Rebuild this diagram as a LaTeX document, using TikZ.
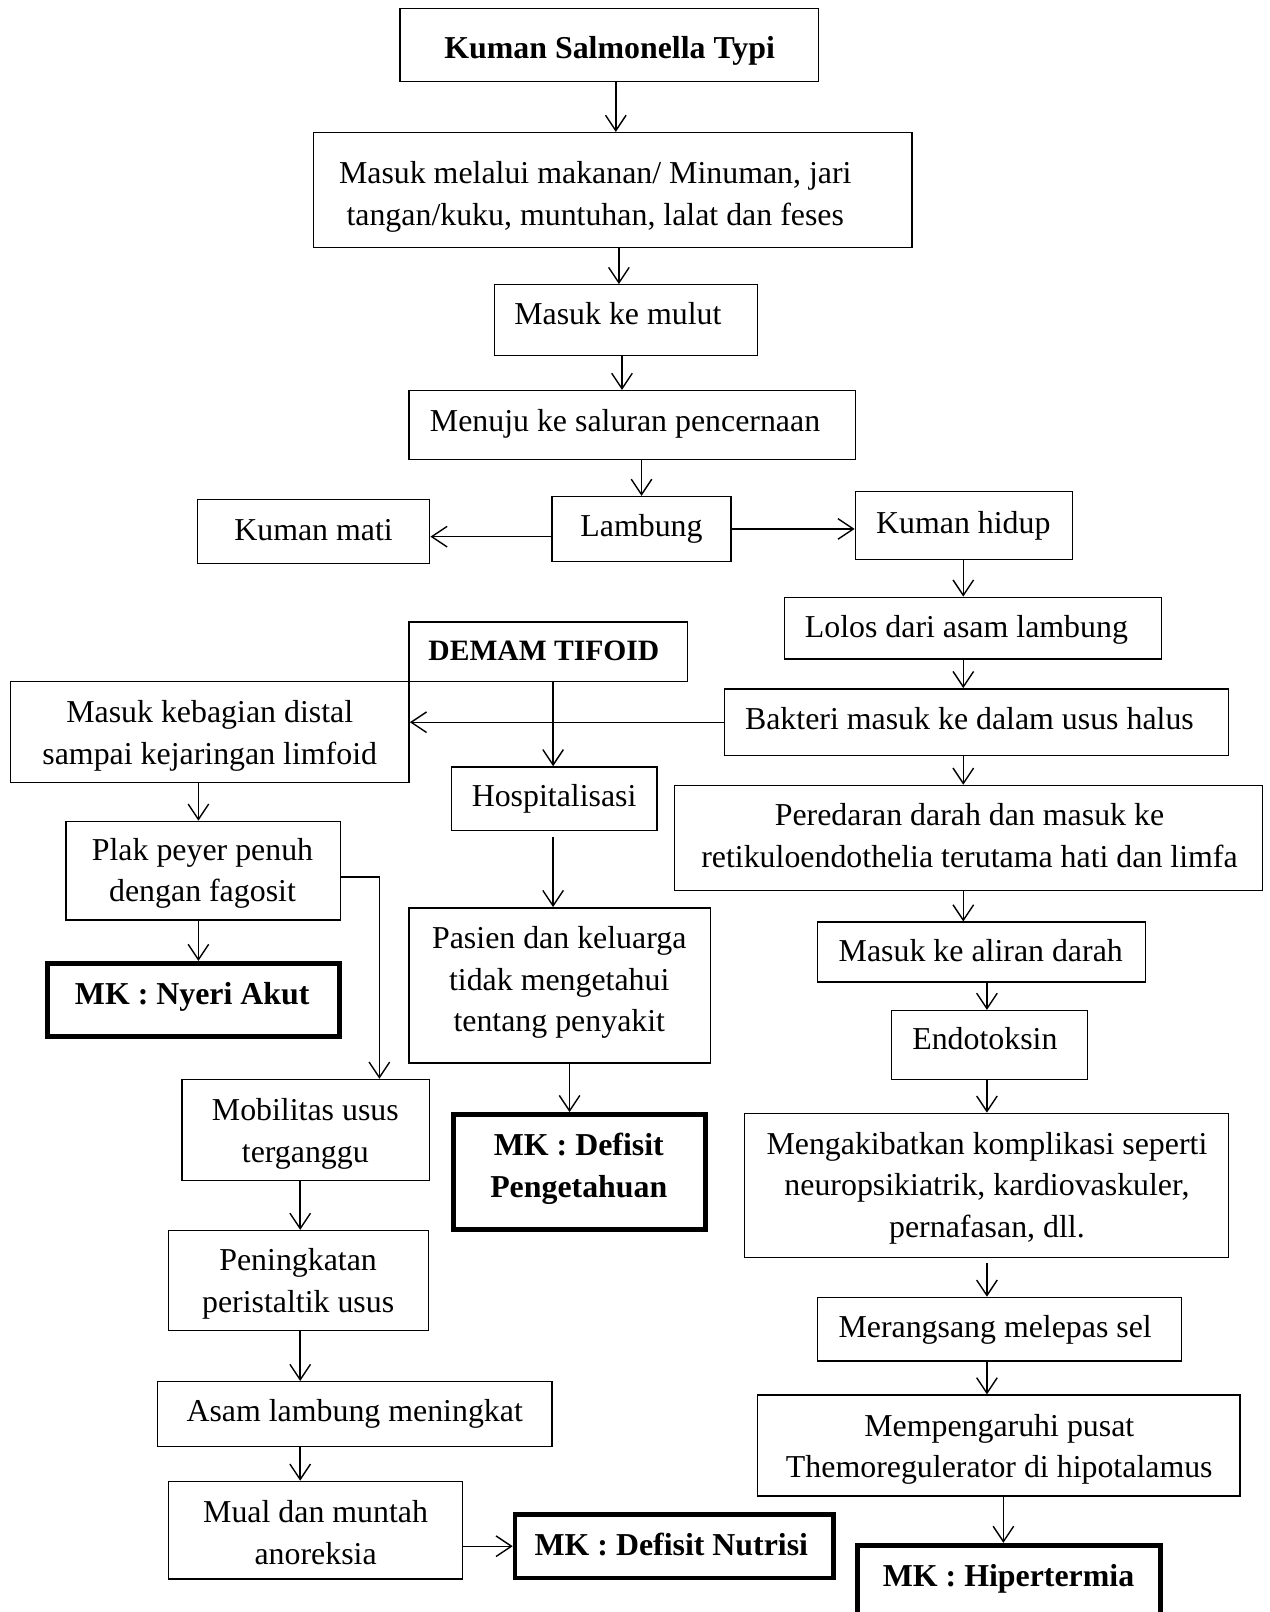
\documentclass[tikz,border=0pt]{standalone}
\usepackage{fontspec}
\setmainfont{Liberation Serif}
\usetikzlibrary{arrows.meta,fit}
\newcommand\bx[9]{\node[#2, fit={(#3,#4)(#5,#6)}] (#1) {};
  \node[txt] (#1-t) at (#7,#8) {#9};}
\newcommand\down[4][]{\coordinate (cx) at (#4,0);
  \draw[arr,#1] (#2.south -| cx) -- (#3.north -| cx);}
\begin{document}
\begin{tikzpicture}[x=0.4pt,y=-0.4pt,
  plainbox/.style={draw, line width=0.55pt, inner sep=0pt, rectangle},
  mkbox/.style={draw, line width=1.8pt, inner sep=0pt, rectangle},
  txt/.style={align=center, inner sep=0pt, yshift=-0.8pt, font=\fontsize{12.4pt}{16.2pt}\selectfont},
  arr/.style={line width=0.55pt, -{Straight Barb[length=6pt,width=8pt]}}]
\useasboundingbox (0,0) rectangle (1235,1568);
\fill[white] (0,0) rectangle (1235,1568);
\clip (0,0) rectangle (1235,1568);

% top chain
\bx{k1}{plainbox}{389}{8}{796}{79}{593}{47}{\strut\textbf{Kuman Salmonella Typi}}
\bx{k2}{plainbox}{305}{129}{887}{241}{579}{189}{\strut Masuk melalui makanan/ Minuman, jari\\\strut tangan/kuku, muntuhan, lalat dan feses}
\bx{k3}{plainbox}{481}{277}{737}{346}{601}{306}{\strut Masuk ke mulut}
\bx{k4}{plainbox}{398}{380}{832}{447}{608}{410}{\strut Menuju ke saluran pencernaan}
\bx{lamb}{plainbox}{537}{483}{711}{546}{624}{512}{\strut Lambung}
\bx{mati}{plainbox}{192}{486}{418}{548}{305}{516}{\strut Kuman mati}
\bx{hidup}{plainbox}{832}{478}{1043}{544}{937}{509}{\strut Kuman hidup}

% right column
\bx{lolos}{plainbox}{763}{581}{1130}{641}{940}{610}{\strut Lolos dari asam lambung}
\bx{bakteri}{plainbox}{705}{670}{1195}{735}{943}{699}{\strut Bakteri masuk ke dalam usus halus}
\bx{pered}{plainbox}{656}{764}{1228}{866}{943}{813}{\strut Peredaran darah dan masuk ke\\\strut retikuloendothelia terutama hati dan limfa}
\bx{aliran}{plainbox}{795}{897}{1114}{955}{954}{925}{\strut Masuk ke aliran darah}
\bx{endo}{plainbox}{867}{983}{1058}{1050}{958}{1011}{\strut Endotoksin}
\bx{komp}{plainbox}{724}{1083}{1195}{1223}{960}{1153}{\strut Mengakibatkan komplikasi seperti\\\strut neuropsikiatrik, kardiovaskuler,\\\strut pernafasan, dll.}
\bx{meran}{plainbox}{795}{1262}{1149}{1324}{968}{1291}{\strut Merangsang melepas sel}
\bx{mempe}{plainbox}{737}{1357}{1206}{1455}{972}{1407}{\strut Mempengaruhi pusat\\\strut Themoregulerator di hipotalamus}
\bx{hiper}{mkbox}{834}{1503}{1129}{1600}{981}{1533}{\strut\textbf{MK : Hipertermia}}

% middle column
\bx{demam}{plainbox}{398}{605}{669}{663}{529}{632}{\strut\fontsize{11.5pt}{16.2pt}\selectfont\textbf{DEMAM TIFOID}}
\bx{hosp}{plainbox}{439}{746}{639}{808}{539}{774}{\strut Hospitalisasi}
\bx{pasien}{plainbox}{398}{883}{691}{1034}{544}{953}{\strut Pasien dan keluarga\\\strut tidak mengetahui\\\strut tentang penyakit}
\bx{defp}{mkbox}{441}{1084}{686}{1196}{563}{1134}{\strut\textbf{MK : Defisit}\\\strut\textbf{Pengetahuan}}

% left column
\bx{distal}{plainbox}{10}{663}{398}{761}{204}{713}{\strut Masuk kebagian distal\\\strut sampai kejaringan limfoid}
\bx{plak}{plainbox}{64}{799}{331}{895}{197}{847}{\strut Plak peyer penuh\\\strut dengan fagosit}
\bx{nyeri}{mkbox}{46}{937}{330}{1008}{187}{967}{\strut\textbf{MK : Nyeri Akut}}
\bx{mob}{plainbox}{177}{1050}{418}{1148}{297}{1100}{\strut Mobilitas usus\\\strut terganggu}
\bx{pen}{plainbox}{164}{1197}{417}{1294}{290}{1246}{\strut Peningkatan\\\strut peristaltik usus}
\bx{asam}{plainbox}{153}{1344}{537}{1407}{345}{1373}{\strut Asam lambung meningkat}
\bx{mual}{plainbox}{164}{1441}{450}{1536}{307}{1491}{\strut Mual dan muntah\\\strut anoreksia}
\bx{defn}{mkbox}{501}{1473}{811}{1535}{653}{1503}{\strut\textbf{MK : Defisit Nutrisi}}

% connectors
\down{k1}{k2}{599}
\down{k2}{k3}{602}
\down{k3}{k4}{605}
\down{k4}{lamb}{624}
\coordinate (y522) at (0,522);
\draw[arr] (lamb.west |- y522) -- (mati.east |- y522);
\draw[arr] (lamb.east) -- (hidup.west |- lamb.east);
\down{hidup}{lolos}{937}
\down{lolos}{bakteri}{937}
\draw[arr] (bakteri.west) -- (distal.east |- bakteri.west);
\down{bakteri}{pered}{937}
\down{pered}{aliran}{937}
\down{aliran}{endo}{960}
\down{endo}{komp}{960}
\down[shorten <=2pt]{komp}{meran}{960}
\down{meran}{mempe}{960}
\down{mempe}{hiper}{976}
\down{demam}{hosp}{538}
\down[shorten <=2pt]{hosp}{pasien}{538}
\down{pasien}{defp}{554}
\down{distal}{plak}{193}
\down{plak}{nyeri}{193}
\coordinate (y853) at (0,853);
\coordinate (x369) at (369,0);
\draw[arr] (plak.east |- y853) -| (mob.north -| x369);
\down{mob}{pen}{292}
\down{pen}{asam}{292}
\down{asam}{mual}{292}
\draw[arr] (mual.east |- defn.west) -- (defn.west);
\end{tikzpicture}
\end{document}
